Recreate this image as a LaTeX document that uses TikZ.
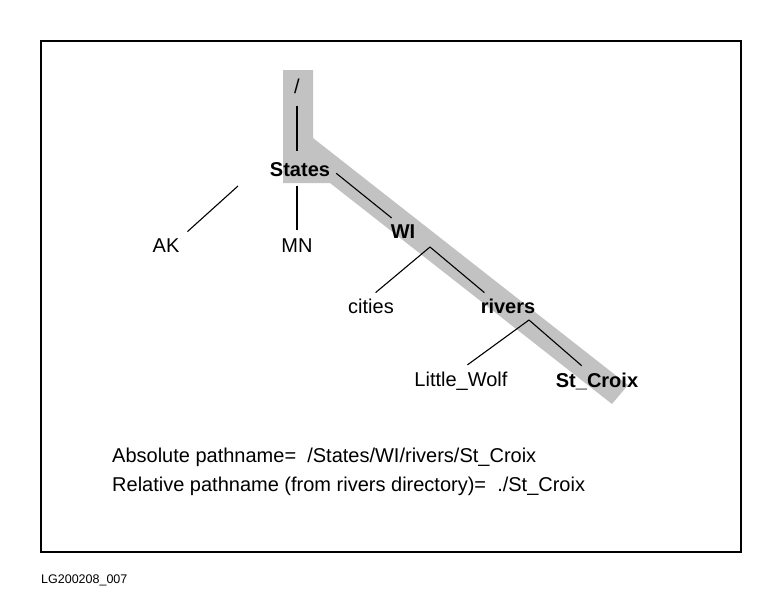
\documentclass[tikz,border=0pt]{standalone}
\usepackage{fontspec}
\setmainfont{Liberation Sans}
\usepackage{tikz}
\usetikzlibrary{positioning,calc}

\begin{document}
\begin{tikzpicture}[
    x=1pt,y=-1pt,
    dirname/.style={font=\fontsize{20}{24}\selectfont,inner sep=2pt},
    onpath/.style={dirname,font=\fontsize{20}{24}\selectfont\bfseries},
    band/.style={fill=black!24,draw=none},
    branch/.style={line width=1.1pt},
    note/.style={font=\fontsize{20}{24}\selectfont,anchor=west,inner sep=0pt},
]
\useasboundingbox (0,0) rectangle (761,600);
\draw[line width=1.6pt] (41,41) rectangle (741,552);
\node[anchor=west,inner sep=0pt,font=\fontsize{12.5}{14}\selectfont] (tag) at (41,580) {LG200208\_007};
\fill[band] (283,70) -- (313,70) -- (313,138) -- (628,385) -- (612,404) -- (330,183) -- (283,183) -- cycle;
\node[dirname] (root) at (297,86) {/};
\node[onpath] (States) at (300,170) {States};
\node[dirname] (AK) at (166,246) {AK};
\node[dirname] (MN) at (297,246) {MN};
\node[onpath] (WI) at (403,232) {WI};
\node[dirname] (cities) at (371,306) {cities};
\node[onpath] (rivers) at (508,306) {rivers};
\node[dirname] (LittleWolf) at (461,381) {Little\_Wolf};
\node[onpath] (StCroix) at (597,381) {St\_Croix};
\coordinate (akEnd) at (238,186);
\coordinate (wiFork) at (430,247);
\coordinate (riversFork) at (529,320);
\draw[branch,shorten <=10pt,shorten >=10pt] (root.south) -- (root.south |- States.north);
\draw[branch,shorten <=7pt,shorten >=7pt] (MN.north) -- (MN.north |- States.south);
\draw[branch,shorten <=8pt] (AK.north east) -- (akEnd);
\draw[branch] ([shift={(4,-6)}]States.south east) -- ([shift={(3,-5)}]WI.north west);
\draw[branch,shorten <=6pt] (cities.north) -- (wiFork);
\draw[branch,shorten >=6pt] (wiFork) -- ([xshift=-19]rivers.north);
\draw[branch,shorten <=8pt] (LittleWolf.north) -- (riversFork);
\draw[branch,shorten >=7pt] (riversFork) -- ([xshift=-10]StCroix.north);
\node[note] (absolute) at (112,457) {Absolute pathname=\ \ /States/WI/rivers/St\_Croix};
\node[note] (relative) at (112,486) {Relative pathname (from rivers directory)=\ \ ./St\_Croix};
\end{tikzpicture}
\end{document}
